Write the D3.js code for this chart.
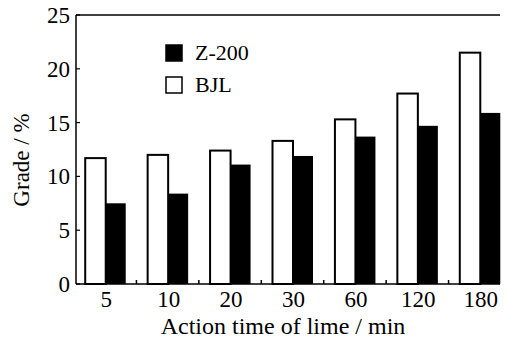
<!DOCTYPE html>
<html>
<head>
<meta charset="utf-8">
<script src="https://cdn.jsdelivr.net/npm/d3@7"></script>
<style>
  body { margin: 0; background: #fff; }
  text { font-family: "Liberation Serif", "Times New Roman", serif; fill: #000; }
</style>
</head>
<body>
<script>
// data
const times = ['5', '10', '20', '30', '60', '120', '180']
const bjl = [11.7, 12.0, 12.4, 13.3, 15.3, 17.7, 21.5]
const z200 = [7.5, 8.4, 11.1, 11.9, 13.7, 14.7, 15.9]
const yTicks = [0, 5, 10, 15, 20, 25]

let w = 509,
    h = 342

let svg = d3.select('body').append('svg')
    .attr('width', w)
    .attr('height', h)

let x = d3.scaleBand().domain(times).range([74, 511]).paddingInner(0)
let y = d3.scaleLinear().domain([0, 25]).range([284, 15])

let rows = times.map((t, i) => ({ t: t, bjl: bjl[i], z: z200[i] }))

// bars
let g = svg.selectAll('g.grp')
    .data(rows)
    .enter()
    .append('g')
    .attr('class', 'grp')
    .attr('transform', d => 'translate(' + (x(d.t) + x.bandwidth() / 2) + ',0)')

g.append('rect')
    .attr('x', -20)
    .attr('width', 20.5)
    .attr('y', d => y(d.bjl))
    .attr('height', d => y(0) - y(d.bjl))
    .attr('fill', '#fff')
    .attr('stroke', '#000')
    .attr('stroke-width', 2)

g.append('rect')
    .attr('x', 0.5)
    .attr('width', 20)
    .attr('y', d => y(d.z))
    .attr('height', d => y(0) - y(d.z))
    .attr('fill', '#000')

// axes lines
svg.append('line')
    .attr('x1', 76).attr('x2', 500)
    .attr('y1', y(0)).attr('y2', y(0))
    .attr('stroke', '#000').attr('stroke-width', 1.5)
svg.append('line')
    .attr('x1', 76).attr('x2', 500)
    .attr('y1', y(25)).attr('y2', y(25))
    .attr('stroke', '#000').attr('stroke-width', 1.5)
svg.append('line')
    .attr('x1', 76).attr('x2', 76)
    .attr('y1', y(0)).attr('y2', y(25))
    .attr('stroke', '#000').attr('stroke-width', 1.5)

// small inward ticks between groups
svg.selectAll('line.xt')
    .data(times.slice(0, -1))
    .enter()
    .append('line')
    .attr('x1', d => x(d) + x.bandwidth())
    .attr('x2', d => x(d) + x.bandwidth())
    .attr('y1', y(0))
    .attr('y2', y(0) - 4)
    .attr('stroke', '#000').attr('stroke-width', 1.5)

// y ticks
svg.selectAll('line.yt')
    .data(yTicks)
    .enter()
    .append('line')
    .attr('x1', 76).attr('x2', 80)
    .attr('y1', d => y(d)).attr('y2', d => y(d))
    .attr('stroke', '#000').attr('stroke-width', 1.2)

svg.selectAll('text.ylab')
    .data(yTicks)
    .enter()
    .append('text')
    .attr('x', 70)
    .attr('y', d => y(d) + 8)
    .attr('text-anchor', 'end')
    .attr('font-size', 23)
    .text(d => d)

svg.selectAll('text.xlab')
    .data(times)
    .enter()
    .append('text')
    .attr('x', d => x(d) + x.bandwidth() / 2 + 1)
    .attr('y', 307)
    .attr('text-anchor', 'middle')
    .attr('font-size', 23)
    .text(d => d)

// titles
svg.append('text')
    .attr('x', 283)
    .attr('y', 334)
    .attr('text-anchor', 'middle')
    .attr('font-size', 24)
    .text('Action time of lime / min')

svg.append('text')
    .attr('transform', 'translate(29,160) rotate(-90)')
    .attr('text-anchor', 'middle')
    .attr('font-size', 23)
    .text('Grade / %')

// legend
const legendItems = ['Z-200', 'BJL']
let leg = svg.selectAll('g.leg')
    .data(legendItems)
    .enter()
    .append('g')
    .attr('transform', (d, i) => 'translate(166,' + (45 + i * 32) + ')')

leg.append('rect')
    .attr('width', 16)
    .attr('height', 16)
    .attr('fill', (d, i) => i == 0 ? '#000' : '#fff')
    .attr('stroke', '#000')
    .attr('stroke-width', 1.5)

leg.append('text')
    .attr('x', 29)
    .attr('y', 15)
    .attr('font-size', 22)
    .text(d => d)
</script>
</body>
</html>
